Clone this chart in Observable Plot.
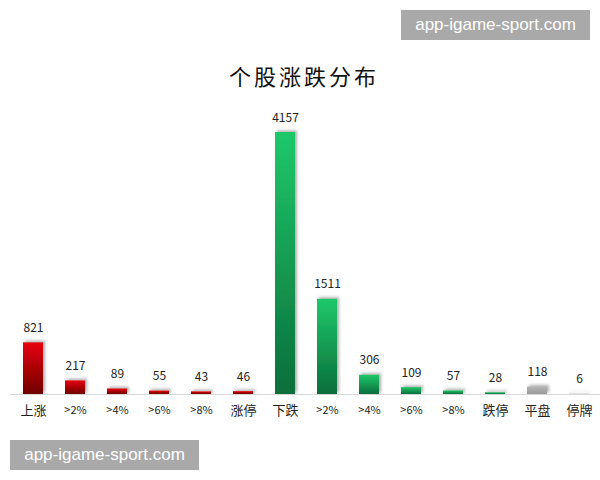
<!DOCTYPE html>
<html>
<head>
<meta charset="utf-8">
<script src="https://cdn.jsdelivr.net/npm/d3@7"></script>
<script src="https://cdn.jsdelivr.net/npm/@observablehq/plot@0.6"></script>
<style>
  body { margin: 0; background: #fff; }
  #wrap { position: relative; width: 600px; height: 480px; overflow: hidden; background: #fff; }
  #title { position: absolute; top: 63px; left: 4px; width: 600px; text-align: center;
    font-family: "Noto Sans CJK SC", sans-serif; font-size: 22px; line-height: 24px; letter-spacing: 3px; color: #111; }
  #chart { position: absolute; top: 0; left: 0; }
  .wm { position: absolute; width: 189px; height: 30px; line-height: 30px; background: #a9a9a9; color: #fff;
    font-family: "Liberation Sans", sans-serif; font-size: 17px; text-align: center; }
</style>
</head>
<body>
<div id="wrap">
  <div id="chart"></div>
  <div id="title">个股涨跌分布</div>
  <div class="wm" style="top:10px;left:401px">app-igame-sport.com</div>
  <div class="wm" style="top:440px;left:10px">app-igame-sport.com</div>
</div>
<script>
const categories = ["上涨", ">2%", ">4%", ">6%", ">8%", "涨停", "下跌", ">2%", ">4%", ">6%", ">8%", "跌停", "平盘", "停牌"];
const values = [821, 217, 89, 55, 43, 46, 4157, 1511, 306, 109, 57, 28, 118, 6];
const groups = ["up", "up", "up", "up", "up", "up", "down", "down", "down", "down", "down", "down", "flat", "flat"];

const data = categories.map((c, i) => ({i, label: c, value: values[i], group: groups[i]}));
const isCJK = s => /[\u4e00-\u9fff]/.test(s);

const chart = Plot.plot({
  width: 600,
  height: 430,
  marginLeft: 22,
  marginRight: 10,
  marginTop: 132,
  marginBottom: 36,
  style: {background: "transparent", overflow: "visible"},
  x: {type: "band", domain: data.map(d => d.i), paddingInner: 0.52, paddingOuter: 0, axis: null},
  y: {domain: [0, 4157], axis: null},
  marks: [
    Plot.ruleY([0], {stroke: "#d9d9d9", strokeWidth: 1, insetLeft: -12, insetRight: -10}),
    Plot.barY(data.filter(d => d.group === "up"), {x: "i", y: "value", fill: "url(#gRed)"}),
    Plot.barY(data.filter(d => d.group === "down"), {x: "i", y: "value", fill: "url(#gGreen)"}),
    Plot.barY(data.filter(d => d.group === "flat"), {x: "i", y: "value", fill: "url(#gGray)"}),
    Plot.text(data, {x: "i", y: "value", text: d => String(d.value), lineAnchor: "bottom", dy: -11,
      fontSize: 12, fill: "#222", fontFamily: "'Noto Sans CJK SC', sans-serif"}),
    Plot.text(data, {x: "i", y: 0, text: "label", lineAnchor: "middle", dy: 16,
      fontSize: d => isCJK(d.label) ? 13 : 11, fill: "#222", fontFamily: "'Noto Sans CJK SC', sans-serif"})
  ]
});

// gradients and shadow
const svg = d3.select(chart);
const defs = svg.insert("defs", ":first-child");
function grad(id, top, bottom) {
  const g = defs.append("linearGradient").attr("id", id).attr("x1", 0).attr("y1", 0).attr("x2", 0).attr("y2", 1);
  g.append("stop").attr("offset", "0%").attr("stop-color", top);
  g.append("stop").attr("offset", "100%").attr("stop-color", bottom);
}
grad("gRed", "#e8000b", "#6e0000");
grad("gGreen", "#1fc86a", "#0b6e3c");
grad("gGray", "#b4b4b4", "#9a9a9a");
const f = defs.append("filter").attr("id", "shadow").attr("filterUnits", "userSpaceOnUse")
  .attr("x", 0).attr("y", 0).attr("width", 600).attr("height", 430);
f.append("feDropShadow").attr("dx", 2).attr("dy", -1.5).attr("stdDeviation", 1.5)
  .attr("flood-color", "#777").attr("flood-opacity", 0.6);
svg.selectAll("g[aria-label='bar'] rect").attr("filter", "url(#shadow)");

document.getElementById("chart").appendChild(chart);
</script>
</body>
</html>
